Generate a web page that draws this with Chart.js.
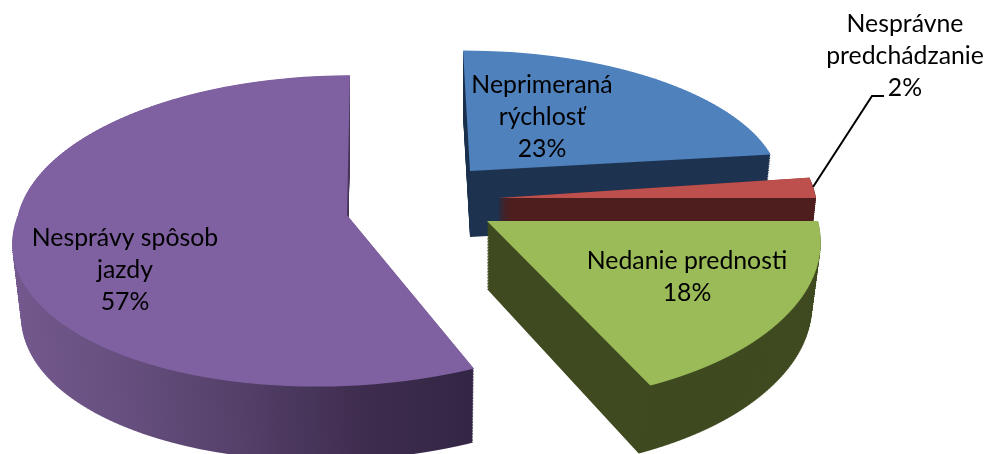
<!DOCTYPE html>
<html><head><meta charset="utf-8">
<style>html,body{margin:0;padding:0;background:#fff}canvas{display:block}</style>
<script src="https://cdn.jsdelivr.net/npm/chart.js@4"></script>
</head><body><canvas id="c" width="988" height="454"></canvas>
<script>
const categories = ['Neprimeraná rýchlosť','Nesprávne predchádzanie','Nedanie prednosti','Nesprávy spôsob jazdy'];
const shares = [23,2,18,57];
const topColors = ['#4f81bd','#bd4f4c','#9bbb59','#7f60a0'];
const sideColors = ['#1d3350','#4f1f1f','#3f4a20',null];
const labelLines = [['Neprimeraná','rýchlosť','23%'],['Nesprávne','predchádzanie','2%'],['Nedanie prednosti','18%'],['Nesprávy spôsob','jazdy','57%']];
const labelAnchors = [[542,85],[905,24],[687,261],[125,238]];
// perspective placement of each exploded slice
const views = [
 {x0:470,y0:171,a:308,b:133,k:.1026,shT:7.7,shB:0,shBd:0,depth:66,step:1.5},
 {x0:498,y0:198,a:318,b:165,k:.1026,shT:0,shB:0,shBd:0,depth:23,step:.4},
 {x0:487,y0:221,a:331,b:165,k:.1026,shT:0,shB:8,shBd:-8,depth:68,step:1.5},
 {x0:347,y0:215,a:329,b:154,k:.1026,shT:-3.3,shB:-27.5,shBd:3,depth:74,step:1.5}
];
const shrink=.024, fullDepth=70, H=454, W=988;
function opts(color){return {backgroundColor:color,borderColor:color,borderWidth:0,borderRadius:0,offset:0,spacing:0,circular:true,borderAlign:'center',borderJoinStyle:'round',selfJoin:false,borderDash:[],borderDashOffset:0};}
function drawProjected(ctx,arc,v,color,dy){
  const cx=arc.x,cy=arc.y,R=arc.outerRadius;
  const a=v.a*(1-shrink*dy/fullDepth),b=v.b,k=v.k,y0=v.y0+dy;
  const shBot=v.shB+v.shBd*dy/v.depth;
  let vmin=0,vmax=0;
  for(let i=0;i<=60;i++){const t=arc.startAngle+(arc.endAngle-arc.startAngle)*i/60;const s=Math.sin(t);vmin=Math.min(vmin,s);vmax=Math.max(vmax,s);}
  const t0=b*vmin/(1-k*vmin),t1=b*vmax/(1-k*vmax);
  const h=2;
  arc.options=opts(color);
  const Ystart=Math.floor((y0+t0-2)/h)*h;
  for(let Y=Ystart;Y<y0+t1+2&&Y<H;Y+=h){
    const t=Y+h/2-y0;
    const vv=t/(b+k*t);
    const q=1-k*vv;
    const sh=vv<0?v.shT:shBot;
    const A=a/(R*q),C=sh/(R*q),D=(b+k*t)*(b+k*t)/b/R;
    const srcY=cy+vv*R;
    ctx.save();
    ctx.beginPath();ctx.rect(0,Y,W,h);ctx.clip();
    ctx.transform(A,0,C,D,v.x0-A*cx-C*srcY+sh*vv/q,Y+h/2-D*srcY);
    arc.draw(ctx);
    ctx.restore();
  }
}
const pie3d={id:'pie3d',
 beforeDatasetsDraw(chart){
  const ctx=chart.ctx,arcs=chart.getDatasetMeta(0).data;
  const saved=arcs.map(a=>a.options);
  const order=[3,0,1,2];
  order.forEach(i=>{
    const arc=arcs[i],v=views[i];
    let side=sideColors[i];
    if(!side){
      const g=ctx.createLinearGradient(arc.x-arc.outerRadius,0,arc.x+arc.outerRadius*.42,0);
      g.addColorStop(0,'#75598f');g.addColorStop(.3,'#675080');g.addColorStop(.55,'#544069');g.addColorStop(.8,'#3e2c4e');g.addColorStop(1,'#332645');
      side=g;
    }
    for(let d=v.depth;d>0;d-=v.step){
      drawProjected(ctx,arc,v,side,d);
    }
    drawProjected(ctx,arc,v,topColors[i],0);
  });
  arcs.forEach((a,i)=>a.options=saved[i]);
  return false;
 },
 afterDraw(chart){
  const ctx=chart.ctx;
  ctx.save();
  ctx.strokeStyle='#000';ctx.lineWidth=2;
  ctx.beginPath();ctx.moveTo(813,187);ctx.lineTo(872,96);ctx.lineTo(884,96);ctx.stroke();
  ctx.fillStyle='#000';ctx.font='24.8px Lato';ctx.textAlign='center';ctx.textBaseline='middle';
  labelLines.forEach((ls,i)=>ls.forEach((s,j)=>ctx.fillText(s,labelAnchors[i][0],labelAnchors[i][1]+j*32)));
  ctx.restore();
 }};
new Chart(document.getElementById('c'),{type:'pie',
 data:{labels:categories,datasets:[{data:shares,backgroundColor:topColors,borderWidth:0}]},
 options:{responsive:false,animation:false,plugins:{legend:{display:false},tooltip:{enabled:false}},layout:{padding:0}},
 plugins:[pie3d]});
</script></body></html>
